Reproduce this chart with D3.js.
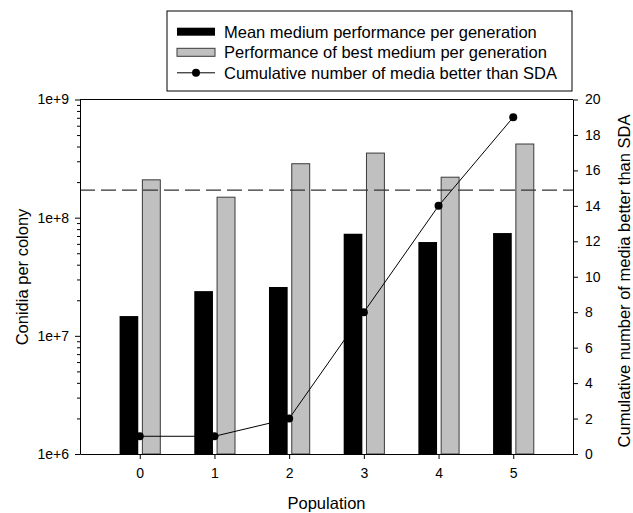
<!DOCTYPE html>
<html>
<head>
<meta charset="utf-8">
<script src="https://cdn.jsdelivr.net/npm/d3@7"></script>
<style>
  html, body { margin: 0; padding: 0; background: #fff; }
  svg { display: block; font-family: "Liberation Sans", Arial, sans-serif; }
</style>
</head>
<body>
<svg id="chart" width="633" height="513"></svg>
<script>
// ---- data ----
const categories = [0, 1, 2, 3, 4, 5];
const meanPerformance = [1.47e7, 2.39e7, 2.59e7, 7.31e7, 6.22e7, 7.41e7];
const bestPerformance = [2.09e8, 1.49e8, 2.86e8, 3.52e8, 2.20e8, 4.20e8];
const cumulativeBetter = [1, 1, 2, 8, 14, 19];
const sdaReference = 1.71e8;
const leftMajorTicks = [1e6, 1e7, 1e8, 1e9];
const leftTickLabels = ["1e+6", "1e+7", "1e+8", "1e+9"];
const rightTicks = [0, 2, 4, 6, 8, 10, 12, 14, 16, 18, 20];
const legendLabels = [
  "Mean medium performance per generation",
  "Performance of best medium per generation",
  "Cumulative number of media better than SDA"
];

// ---- layout ----
const svg = d3.select("#chart");
const L = 80, R = 573, T = 99.5, B = 454;

const x = d3.scaleLinear().domain([-0.8, 5.8]).range([L, R]);
const yL = d3.scaleLog().domain([1e6, 1e9]).range([B, T]);
const yR = d3.scaleLinear().domain([0, 20]).range([B, T]);

const g = svg.append("g");

// bars: mean (black)
g.selectAll("rect.mean").data(categories).join("rect")
  .attr("class", "mean")
  .attr("x", d => x(d - 0.27))
  .attr("width", d => x(d - 0.02) - x(d - 0.27))
  .attr("y", (d, i) => yL(meanPerformance[i]))
  .attr("height", (d, i) => B - yL(meanPerformance[i]))
  .attr("fill", "#000");

// bars: best (gray)
g.selectAll("rect.best").data(categories).join("rect")
  .attr("class", "best")
  .attr("x", d => x(d + 0.035))
  .attr("width", d => x(d + 0.275) - x(d + 0.035))
  .attr("y", (d, i) => yL(bestPerformance[i]))
  .attr("height", (d, i) => B - yL(bestPerformance[i]))
  .attr("fill", "#c0c0c0")
  .attr("stroke", "#3a3a3a")
  .attr("stroke-width", 1);

// SDA reference dashed line
g.append("line")
  .attr("x1", L).attr("x2", R)
  .attr("y1", yL(sdaReference)).attr("y2", yL(sdaReference))
  .attr("stroke", "#333").attr("stroke-width", 1.2)
  .attr("stroke-dasharray", "15,6");

// cumulative line
const line = d3.line().x((d, i) => x(categories[i])).y(d => yR(d));
g.append("path").datum(cumulativeBetter)
  .attr("d", line).attr("fill", "none")
  .attr("stroke", "#000").attr("stroke-width", 1);
g.selectAll("circle.pt").data(cumulativeBetter).join("circle")
  .attr("class", "pt")
  .attr("cx", (d, i) => x(categories[i]))
  .attr("cy", d => yR(d))
  .attr("r", 4).attr("fill", "#000");

// frame lines
g.append("line").attr("x1", L).attr("x2", R).attr("y1", T).attr("y2", T)
  .attr("stroke", "#000").attr("stroke-width", 1);

// left axis (log)
const minorTicks = [];
for (let e = 6; e < 9; e++) for (let m = 2; m <= 9; m++) minorTicks.push(m * Math.pow(10, e));
const leftAxis = d3.axisLeft(yL).tickValues(leftMajorTicks)
  .tickFormat((d, i) => leftTickLabels[i]).tickSize(5).tickSizeOuter(0).tickPadding(6);
const la = svg.append("g").attr("transform", `translate(${L},0)`).call(leftAxis);
const laMinor = svg.append("g").attr("transform", `translate(${L},0)`)
  .call(d3.axisLeft(yL).tickValues(minorTicks).tickFormat("").tickSize(3).tickSizeOuter(0));
laMinor.select(".domain").remove();

// right axis
const ra = svg.append("g").attr("transform", `translate(${R},0)`)
  .call(d3.axisRight(yR).tickValues(rightTicks).tickSize(5).tickSizeOuter(0).tickPadding(7));

// bottom axis
const ba = svg.append("g").attr("transform", `translate(0,${B})`)
  .call(d3.axisBottom(x).tickValues(categories).tickFormat(d3.format("d")).tickSize(5).tickSizeOuter(0).tickPadding(9));

[la, laMinor, ra, ba].forEach(a => {
  a.selectAll("text").attr("font-size", 14).attr("fill", "#000").attr("font-family", "Liberation Sans, Arial, sans-serif");
  a.selectAll("line").attr("stroke", "#000");
  a.selectAll(".domain").attr("stroke", "#000");
});

// axis titles
svg.append("text")
  .attr("transform", `translate(22,277) rotate(-90)`)
  .attr("text-anchor", "middle").attr("dominant-baseline", "central")
  .attr("font-size", 16.5).text("Conidia per colony");
svg.append("text")
  .attr("transform", `translate(624,281) rotate(-90)`)
  .attr("text-anchor", "middle").attr("dominant-baseline", "central")
  .attr("font-size", 16.5).text("Cumulative number of media better than SDA");
svg.append("text")
  .attr("x", (L + R) / 2).attr("y", 503)
  .attr("text-anchor", "middle").attr("dominant-baseline", "central")
  .attr("font-size", 16.5).text("Population");

// legend
const lg = svg.append("g");
lg.append("rect").attr("x", 167).attr("y", 11).attr("width", 405).attr("height", 80)
  .attr("fill", "#fff").attr("stroke", "#000").attr("stroke-width", 1);
const rowY = [31.7, 52.3, 72.8];
lg.append("rect").attr("x", 177).attr("y", rowY[0] - 4).attr("width", 38).attr("height", 8).attr("fill", "#000");
lg.append("rect").attr("x", 177).attr("y", rowY[1] - 4).attr("width", 38).attr("height", 8)
  .attr("fill", "#c0c0c0").attr("stroke", "#3a3a3a");
lg.append("line").attr("x1", 177).attr("x2", 215).attr("y1", rowY[2]).attr("y2", rowY[2]).attr("stroke", "#000");
lg.append("circle").attr("cx", 196).attr("cy", rowY[2]).attr("r", 4).attr("fill", "#000");
lg.selectAll("text").data(legendLabels).join("text")
  .attr("x", 224).attr("y", (d, i) => rowY[i])
  .attr("dominant-baseline", "central")
  .attr("font-size", 16.5).text(d => d);
</script>
</body>
</html>
